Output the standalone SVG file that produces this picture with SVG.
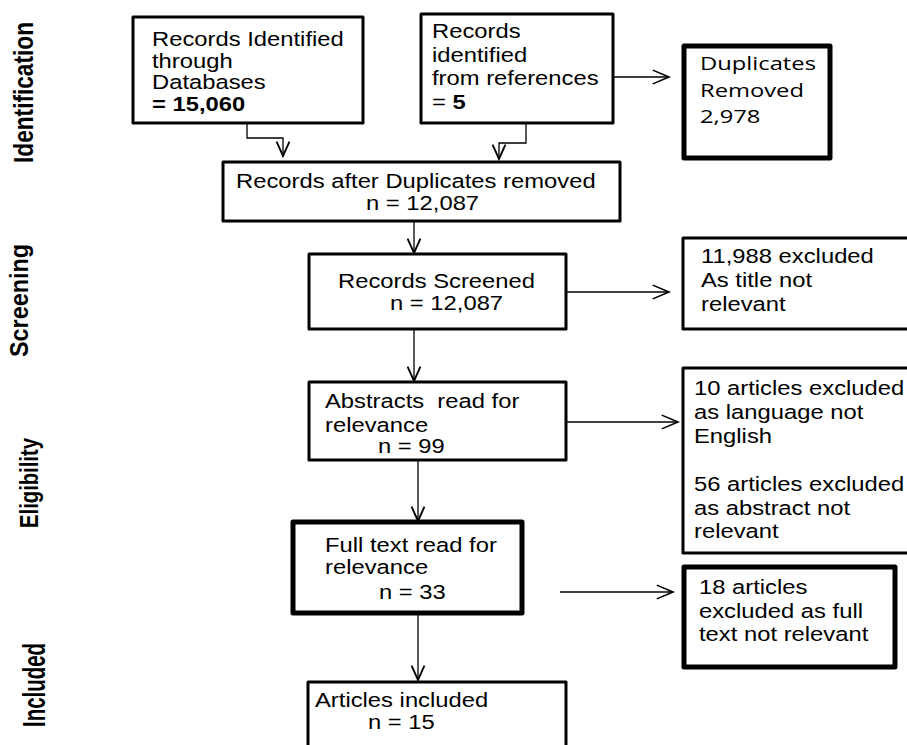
<svg xmlns="http://www.w3.org/2000/svg" width="907" height="745" viewBox="0 0 907 745">
<defs>
<style>
.bx{fill:#fff;stroke:#000;stroke-width:3;stroke-linejoin:round}
.bk{fill:#fff;stroke:#000;stroke-width:5;stroke-linejoin:round}
.t{font-family:"Liberation Sans",Arial,sans-serif;font-size:19.5px;fill:#000}
.o{font-family:"Open Sans","Liberation Sans",sans-serif;font-size:19px;fill:#000}
.b{font-weight:bold}
.lab{font-family:"Liberation Sans",Arial,sans-serif;font-size:21px;font-weight:bold;fill:#000;text-anchor:middle}
.c{fill:none;stroke:#000;stroke-width:1.3}
</style>
<marker id="ah" markerUnits="userSpaceOnUse" markerWidth="20" markerHeight="20" viewBox="-14 -7 16 14" refX="0" refY="0" orient="auto">
<path d="M-13,-5.5 L0,0 L-13,5.5" fill="none" stroke="#000" stroke-width="1.3"/>
</marker>
<marker id="av" markerUnits="userSpaceOnUse" markerWidth="20" markerHeight="20" viewBox="-12 -6 14 12" refX="0" refY="0" orient="auto">
<path d="M-10,-4.5 L0,0 L-10,4.5" fill="none" stroke="#000" stroke-width="1.3"/>
</marker>
</defs>
<rect width="907" height="745" fill="#fff"/>

<g id="labels">
<text class="lab" transform="translate(33,92.5) rotate(-90) scale(1,1.3)" textLength="141" lengthAdjust="spacingAndGlyphs">Identification</text>
<text class="lab" transform="translate(28,300.5) rotate(-90) scale(1,1.2)" textLength="113" lengthAdjust="spacingAndGlyphs">Screening</text>
<text class="lab" transform="translate(37.5,483) rotate(-90) scale(1,1.22)" textLength="90" lengthAdjust="spacingAndGlyphs">Eligibility</text>
<text class="lab" transform="translate(45,685) rotate(-90) scale(1,1.5)" textLength="84" lengthAdjust="spacingAndGlyphs">Included</text>
</g>

<g id="connectors">
<path class="c" d="M247,123 V138 H283 V156" marker-end="url(#av)"/>
<path class="c" d="M526,123 V143 H499 V159" marker-end="url(#av)"/>
<path class="c" d="M613,77 H669" marker-end="url(#ah)"/>
<path class="c" d="M414,221 V253" marker-end="url(#av)"/>
<path class="c" d="M566,292 H669" marker-end="url(#ah)"/>
<path class="c" d="M414,329 V381" marker-end="url(#av)"/>
<path class="c" d="M566,422 H678" marker-end="url(#ah)"/>
<path class="c" d="M418,460 V521" marker-end="url(#av)"/>
<path class="c" d="M560,592 H673" marker-end="url(#ah)"/>
<path class="c" d="M418,613 V680" marker-end="url(#av)"/>
</g>

<g id="n1">
<rect class="bx" x="133" y="17" width="230" height="106"/>
<text class="t" transform="translate(152,46) scale(1.22,1)">Records Identified</text>
<text class="t" transform="translate(152,67.5) scale(1.22,1)">through</text>
<text class="t" transform="translate(152,89) scale(1.22,1)">Databases</text>
<text class="t b" transform="translate(152,110.5) scale(1.22,1)">= 15,060</text>
</g>

<g id="n2">
<rect class="bx" x="421" y="14" width="192" height="109"/>
<text class="t" transform="translate(432,38) scale(1.22,1)">Records</text>
<text class="t" transform="translate(432,61.5) scale(1.22,1)">identified</text>
<text class="t" transform="translate(432,85) scale(1.22,1)">from references</text>
<text class="t" transform="translate(432,108.5) scale(1.22,1)">= <tspan class="b">5</tspan></text>
</g>

<g id="n3">
<rect class="bk" x="684" y="46" width="146" height="112"/>
<text class="o" transform="translate(700,70) scale(1.25,1)">Duplicates</text>
<text class="o" transform="translate(700,96.5) scale(1.25,1)">Removed</text>
<text class="o" transform="translate(700,123) scale(1.25,1)">2,978</text>
</g>

<g id="n4">
<rect class="bx" x="223" y="162" width="397" height="59"/>
<text class="t" transform="translate(236,188) scale(1.22,1)">Records after Duplicates removed</text>
<text class="t" transform="translate(366,210) scale(1.22,1)">n = 12,087</text>
</g>

<g id="n5">
<rect class="bx" x="309" y="254" width="257" height="75"/>
<text class="t" transform="translate(338,288) scale(1.22,1)">Records Screened</text>
<text class="t" transform="translate(390,310) scale(1.22,1)">n = 12,087</text>
</g>

<g id="n6">
<rect class="bx" x="683" y="238" width="232" height="91"/>
<text class="t" transform="translate(701,263) scale(1.22,1)">11,988 excluded</text>
<text class="t" transform="translate(701,287) scale(1.22,1)">As title not</text>
<text class="t" transform="translate(701,310.5) scale(1.22,1)">relevant</text>
</g>

<g id="n7">
<rect class="bx" x="309" y="382" width="257" height="78"/>
<text class="t" xml:space="preserve" transform="translate(325,408) scale(1.22,1)">Abstracts  read for</text>
<text class="t" transform="translate(325,432) scale(1.22,1)">relevance</text>
<text class="t" transform="translate(378,453) scale(1.22,1)">n = 99</text>
</g>

<g id="n8">
<rect class="bx" x="683" y="368" width="232" height="185"/>
<text class="t" transform="translate(694,395) scale(1.22,1)">10 articles excluded</text>
<text class="t" transform="translate(694,419) scale(1.22,1)">as language not</text>
<text class="t" transform="translate(694,443) scale(1.22,1)">English</text>
<text class="t" transform="translate(694,491) scale(1.22,1)">56 articles excluded</text>
<text class="t" transform="translate(694,515) scale(1.22,1)">as abstract not</text>
<text class="t" transform="translate(694,538) scale(1.22,1)">relevant</text>
</g>

<g id="n9">
<rect class="bk" x="293" y="522" width="229" height="91"/>
<text class="t" transform="translate(325,552) scale(1.22,1)">Full text read for</text>
<text class="t" transform="translate(325,574) scale(1.22,1)">relevance</text>
<text class="t" transform="translate(379,599) scale(1.22,1)">n = 33</text>
</g>

<g id="n10">
<rect class="bk" x="684" y="567" width="211" height="100"/>
<text class="t" transform="translate(699,594) scale(1.22,1)">18 articles</text>
<text class="t" transform="translate(699,618) scale(1.22,1)">excluded as full</text>
<text class="t" transform="translate(699,641) scale(1.22,1)">text not relevant</text>
</g>

<g id="n11">
<rect class="bx" x="308" y="682" width="258" height="72"/>
<text class="t" transform="translate(315,707) scale(1.22,1)">Articles included</text>
<text class="t" transform="translate(368,729) scale(1.22,1)">n = 15</text>
</g>
</svg>
